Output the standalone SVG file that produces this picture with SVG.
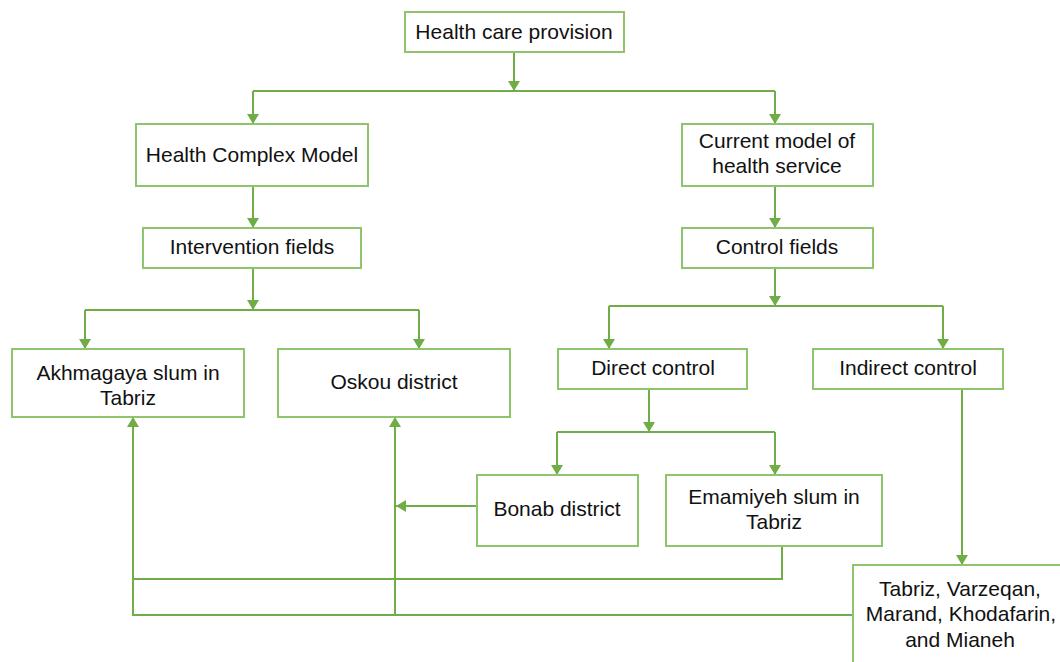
<svg xmlns="http://www.w3.org/2000/svg" width="1060" height="662" viewBox="0 0 1060 662">
<style>
.box{fill:#fff;stroke:#8fc46f;stroke-width:2}
.t{font-family:"Liberation Sans",Arial,sans-serif;font-size:21px;fill:#111;text-anchor:middle}
.c{fill:none;stroke:#70ad47;stroke-width:2}
</style>
<defs>
<marker id="ah" markerUnits="userSpaceOnUse" markerWidth="12" markerHeight="12" viewBox="0 0 10 12" refX="10" refY="6" orient="auto">
<path d="M0,0 L10,6 L0,12 z" fill="#70ad47"/>
</marker>
</defs>
<rect width="1060" height="662" fill="#fff"/>
<g id="connectors">
<path class="c" d="M514,52 V91" marker-end="url(#ah)"/>
<path class="c" d="M253,91 H775"/>
<path class="c" d="M253,91 V124" marker-end="url(#ah)"/>
<path class="c" d="M775,91 V124" marker-end="url(#ah)"/>
<path class="c" d="M253,186 V228" marker-end="url(#ah)"/>
<path class="c" d="M775,186 V228" marker-end="url(#ah)"/>
<path class="c" d="M253,268 V310" marker-end="url(#ah)"/>
<path class="c" d="M85,310 H419"/>
<path class="c" d="M85,310 V349" marker-end="url(#ah)"/>
<path class="c" d="M419,310 V349" marker-end="url(#ah)"/>
<path class="c" d="M775,268 V306" marker-end="url(#ah)"/>
<path class="c" d="M609,306 H943"/>
<path class="c" d="M609,306 V349" marker-end="url(#ah)"/>
<path class="c" d="M943,306 V349" marker-end="url(#ah)"/>
<path class="c" d="M649,389 V432" marker-end="url(#ah)"/>
<path class="c" d="M557,432 H775"/>
<path class="c" d="M557,432 V475" marker-end="url(#ah)"/>
<path class="c" d="M775,432 V475" marker-end="url(#ah)"/>
<path class="c" d="M477,506 H396" marker-end="url(#ah)"/>
<path class="c" d="M782,546 V579 H133"/>
<path class="c" d="M853,615 H133 V417" marker-end="url(#ah)"/>
<path class="c" d="M395,615 V417" marker-end="url(#ah)"/>
<path class="c" d="M962,389 V565" marker-end="url(#ah)"/>
</g>
<g id="n-health-care">
<rect class="box" x="405" y="12" width="219" height="40"/>
<text class="t" x="514" y="39">Health care provision</text>
</g>
<g id="n-health-complex">
<rect class="box" x="136" y="124" width="232" height="62"/>
<text class="t" x="252" y="162">Health Complex Model</text>
</g>
<g id="n-intervention">
<rect class="box" x="143" y="228" width="218" height="40"/>
<text class="t" x="252" y="254">Intervention fields</text>
</g>
<g id="n-current">
<rect class="box" x="682" y="124" width="191" height="62"/>
<text class="t" x="777" y="148">Current model of</text>
<text class="t" x="777" y="173">health service</text>
</g>
<g id="n-control">
<rect class="box" x="682" y="228" width="191" height="40"/>
<text class="t" x="777" y="254">Control fields</text>
</g>
<g id="n-akhmagaya">
<rect class="box" x="12" y="349" width="232" height="68"/>
<text class="t" x="128" y="380">Akhmagaya slum in</text>
<text class="t" x="128" y="405">Tabriz</text>
</g>
<g id="n-oskou">
<rect class="box" x="278" y="349" width="232" height="68"/>
<text class="t" x="394" y="389">Oskou district</text>
</g>
<g id="n-direct">
<rect class="box" x="558" y="349" width="189" height="40"/>
<text class="t" x="653" y="375">Direct control</text>
</g>
<g id="n-indirect">
<rect class="box" x="813" y="349" width="190" height="40"/>
<text class="t" x="908" y="375">Indirect control</text>
</g>
<g id="n-bonab">
<rect class="box" x="477" y="475" width="161" height="71"/>
<text class="t" x="557" y="516">Bonab district</text>
</g>
<g id="n-emamiyeh">
<rect class="box" x="666" y="475" width="216" height="71"/>
<text class="t" x="774" y="504">Emamiyeh slum in</text>
<text class="t" x="774" y="529">Tabriz</text>
</g>
<g id="n-tabriz">
<rect class="box" x="853" y="565" width="230" height="120"/>
<text class="t" x="960" y="596">Tabriz, Varzeqan,</text>
<text class="t" x="961" y="621">Marand, Khodafarin,</text>
<text class="t" x="960" y="647">and Mianeh</text>
</g>
</svg>
